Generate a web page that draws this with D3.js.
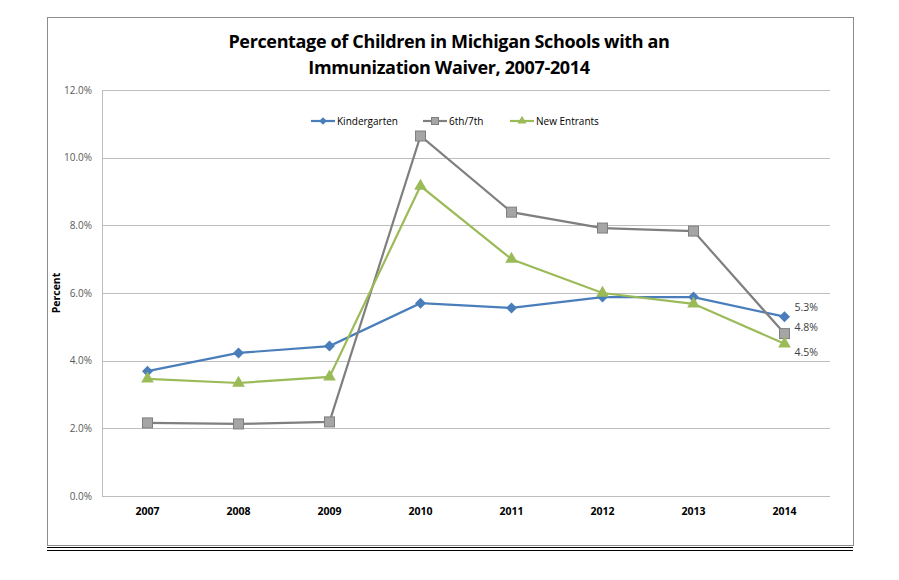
<!DOCTYPE html>
<html>
<head>
  <style>
    body { margin: 0; background: #fff; }
    svg { font-family: "Open Sans", "DejaVu Sans", sans-serif; }
  </style>
</head>
<body>
  <script src="https://d3js.org/d3.v7.min.js"></script>
  <script>
    // chart values
    const years = ["2007", "2008", "2009", "2010", "2011", "2012", "2013", "2014"];
    const kindergarten = [3.69, 4.23, 4.43, 5.70, 5.56, 5.88, 5.88, 5.3];
    const sixthSeventh = [2.16, 2.13, 2.19, 10.64, 8.39, 7.92, 7.83, 4.8];
    const newEntrants = [3.46, 3.34, 3.52, 9.16, 7.0, 6.0, 5.68, 4.5];
    const yTicks = [0, 2, 4, 6, 8, 10, 12];
    const seriesNames = ["Kindergarten", "6th/7th", "New Entrants"];

    const width = 899, height = 580;
    const plot = { left: 102, right: 830, top: 90, bottom: 496 };

    const svg = d3.select("body").append("svg")
      .attr("width", width)
      .attr("height", height);

    // outer chart frame
    svg.append("rect")
      .attr("x", 47.5).attr("y", 17.5)
      .attr("width", 806).attr("height", 528)
      .attr("fill", "#fff")
      .attr("stroke", "#8c8c8c")
      .attr("stroke-width", 1);

    // double rule under the chart
    svg.append("line").attr("x1", 47).attr("x2", 853).attr("y1", 547.5).attr("y2", 547.5)
      .attr("stroke", "#000").attr("stroke-width", 1.2);
    svg.append("line").attr("x1", 47).attr("x2", 853).attr("y1", 550.5).attr("y2", 550.5)
      .attr("stroke", "#000").attr("stroke-width", 1.2);

    // title
    const title = svg.append("text")
      .attr("text-anchor", "middle")
      .attr("font-size", 18)
      .attr("font-weight", "bold")
      .attr("letter-spacing", -0.35)
      .attr("fill", "#000");
    title.append("tspan").attr("x", 449).attr("y", 48)
      .text("Percentage of Children in Michigan Schools with an");
    title.append("tspan").attr("x", 449).attr("y", 74)
      .text("Immunization Waiver, 2007-2014");

    const x = d3.scaleBand()
      .domain(years)
      .range([plot.left, plot.right]);

    const y = d3.scaleLinear()
      .domain([0, 12])
      .range([plot.bottom, plot.top]);

    // gridlines
    svg.append("g")
      .selectAll("line")
      .data(yTicks)
      .join("line")
      .attr("x1", plot.left).attr("x2", plot.right)
      .attr("y1", d => Math.round(y(d)) + 0.5)
      .attr("y2", d => Math.round(y(d)) + 0.5)
      .attr("stroke", "#bdbdbd")
      .attr("stroke-width", 1);

    // left axis line
    svg.append("line")
      .attr("x1", plot.left + 0.5).attr("x2", plot.left + 0.5)
      .attr("y1", plot.top).attr("y2", plot.bottom)
      .attr("stroke", "#bdbdbd");

    // y axis
    const yAxis = svg.append("g")
      .attr("transform", `translate(${plot.left},0)`)
      .call(d3.axisLeft(y).tickValues(yTicks).tickSize(0).tickPadding(10)
        .tickFormat(d => d.toFixed(1) + "%"));
    yAxis.select(".domain").remove();
    yAxis.selectAll("text")
      .attr("font-size", 10)
      .attr("fill", "#595959")
      .attr("font-family", "'Open Sans', sans-serif");

    // x axis
    const xAxis = svg.append("g")
      .attr("transform", `translate(0,${plot.bottom})`)
      .call(d3.axisBottom(x).tickSize(0).tickPadding(12));
    xAxis.select(".domain").remove();
    xAxis.selectAll("text")
      .attr("font-size", 10.5)
      .attr("font-weight", "bold")
      .attr("fill", "#000")
      .attr("font-family", "'Open Sans', sans-serif");

    // y axis title
    svg.append("text")
      .attr("transform", "translate(60,293) rotate(-90)")
      .attr("text-anchor", "middle")
      .attr("font-size", 10.5)
      .attr("font-weight", "bold")
      .attr("fill", "#000")
      .text("Percent");

    const colors = ["#4a7ebb", "#7f7f7f", "#9bbb59"];
    const series = [kindergarten, sixthSeventh, newEntrants];
    const line = d3.line()
      .x((d, i) => x(years[i]) + x.bandwidth() / 2)
      .y(d => y(d));

    function drawMarker(g, k, cx, cy, scale) {
      if (k === 0) {
        const r = 5.5 * scale;
        g.append("path")
          .attr("d", `M${cx},${cy - r}L${cx + r},${cy}L${cx},${cy + r}L${cx - r},${cy}Z`)
          .attr("fill", colors[0]);
      } else if (k === 1) {
        const s = 10 * scale;
        g.append("rect")
          .attr("x", cx - s / 2).attr("y", cy - s / 2)
          .attr("width", s).attr("height", s)
          .attr("fill", "#a5a5a5")
          .attr("stroke", "#7f7f7f")
          .attr("stroke-width", 1);
      } else {
        g.append("path")
          .attr("d", d3.symbol(d3.symbolTriangle, 70 * scale * scale)())
          .attr("transform", `translate(${cx},${cy})`)
          .attr("fill", colors[2]);
      }
    }

    series.forEach((vals, k) => {
      svg.append("path")
        .datum(vals)
        .attr("d", line)
        .attr("fill", "none")
        .attr("stroke", colors[k])
        .attr("stroke-width", 2.2);
    });
    series.forEach((vals, k) => {
      const g = svg.append("g");
      vals.forEach((v, i) => drawMarker(g, k, x(years[i]) + x.bandwidth() / 2, y(v), 1));
    });

    // end labels
    const endOffsets = [-10, -7, 8];
    series.forEach((vals, k) => {
      const last = vals[vals.length - 1];
      svg.append("text")
        .attr("x", x("2014") + x.bandwidth() / 2 + 10)
        .attr("y", y(last) + endOffsets[k] + 4)
        .attr("font-size", 10.5)
        .attr("fill", "#404040")
        .text(last.toFixed(1) + "%");
    });

    // legend
    const legendX = [311, 423, 510];
    const legend = svg.append("g");
    seriesNames.forEach((name, k) => {
      const lx = legendX[k], ly = 121;
      legend.append("line")
        .attr("x1", lx).attr("x2", lx + 24)
        .attr("y1", ly).attr("y2", ly)
        .attr("stroke", colors[k]).attr("stroke-width", 2.2);
      drawMarker(legend, k, lx + 12, ly, 0.7);
      legend.append("text")
        .attr("x", lx + 26).attr("y", ly + 4)
        .attr("font-size", 10)
        .attr("fill", "#000")
        .text(name);
    });
  </script>
</body>
</html>
